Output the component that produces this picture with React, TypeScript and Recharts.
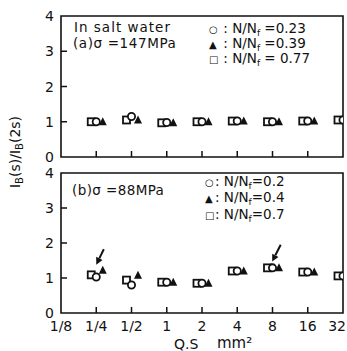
import { ScatterChart, Scatter, XAxis, YAxis, ReferenceArea, ReferenceLine } from "recharts";

const qsTicks = [0.125, 0.25, 0.5, 1, 2, 4, 8, 16, 32];
const qsLabels = ["1/8", "1/4", "1/2", "1", "2", "4", "8", "16", "32"];
const qs = [0.25, 0.5, 1, 2, 4, 8, 16, 32];
const yTicks = [0, 1, 2, 3, 4];

// (a) sigma = 147 MPa, in salt water
const a023 = [1.0, 1.15, 0.98, 1.0, 1.02, 1.0, 1.02, 1.05];
const a039 = [1.0, 1.05, 0.97, 1.0, 1.02, 1.0, 1.02, 1.05];
const a077 = [1.0, 1.05, 0.97, 1.0, 1.02, 1.0, 1.02, 1.05];

// (b) sigma = 88 MPa
const b02 = [1.03, 0.8, 0.88, 0.85, 1.2, 1.29, 1.17, 1.06];
const b04 = [1.22, 1.08, 0.88, 0.85, 1.2, 1.29, 1.17, 1.06];
const b07 = [1.09, 0.94, 0.88, 0.85, 1.2, 1.29, 1.17, 1.06];

const arrowsB = [
  { from: { x: 0.29, y: 1.82 }, to: { x: 0.25, y: 1.38 } },
  { from: { x: 9.4, y: 1.95 }, to: { x: 7.95, y: 1.47 } },
];

const FONT = "'DejaVu Sans', sans-serif";
const INK = "#111";

const toPts = (vals: number[]) => vals.map((v, i) => ({ x: qs[i], y: v }));

const Circle = (p: any) => (
  <circle cx={p.cx} cy={p.cy} r={3.6} fill="#fff" stroke={INK} strokeWidth={1.8} />
);
const Tri = (p: any) => (
  <polygon
    points={`${p.cx + 6.5},${p.cy - 4.5} ${p.cx + 2.5},${p.cy + 3.5} ${p.cx + 10.5},${p.cy + 3.5}`}
    fill={INK}
  />
);
const Sq = (p: any) => (
  <rect x={p.cx - 8.5} y={p.cy - 3.5} width={7} height={7} fill="#fff" stroke={INK} strokeWidth={1.8} />
);

const YTick = (p: any) => {
  const v = p.payload.value;
  return (
    <g>
      {v > 0 && v < 4 && <line x1={p.x} x2={p.x + 6} y1={p.y} y2={p.y} stroke={INK} strokeWidth={1.5} />}
      <text x={p.x - 7} y={p.y + 5} textAnchor="end" fontSize={14} fontFamily={FONT} fill={INK}>
        {v}
      </text>
    </g>
  );
};

const makeXTick = (showLabel: boolean) => (p: any) => {
  const v = p.payload.value;
  const i = qsTicks.indexOf(v);
  const inner = v > 0.125 && v < 32;
  const last = i === qsTicks.length - 1;
  return (
    <g>
      {inner && <line x1={p.x} x2={p.x} y1={p.y} y2={p.y - 6} stroke={INK} strokeWidth={1.5} />}
      {showLabel && (
        <text
          x={last ? 346 : p.x}
          y={p.y + 18}
          textAnchor={last ? "end" : "middle"}
          fontSize={14}
          fontFamily={FONT}
          fill={INK}
        >
          {qsLabels[i]}
        </text>
      )}
    </g>
  );
};

const Arrow = (p: any) => {
  const { x1, y1, x2, y2 } = p;
  const ang = Math.atan2(y2 - y1, x2 - x1);
  const L = 7;
  const w = 3.5;
  const bx = x2 - L * Math.cos(ang);
  const by = y2 - L * Math.sin(ang);
  const nx = -Math.sin(ang) * w;
  const ny = Math.cos(ang) * w;
  return (
    <g>
      <line x1={x1} y1={y1} x2={bx} y2={by} stroke={INK} strokeWidth={2} />
      <polygon points={`${x2},${y2} ${bx + nx},${by + ny} ${bx - nx},${by - ny}`} fill={INK} />
    </g>
  );
};

function Panel({
  height,
  top,
  bottomAxis,
  series,
  arrows,
}: {
  height: number;
  top: number;
  bottomAxis: number;
  series: { data: number[]; shape: any }[];
  arrows?: typeof arrowsB;
}) {
  return (
    <ScatterChart width={347} height={height} margin={{ top, right: 4, left: 0, bottom: 0 }}>
      <XAxis
        type="number"
        dataKey="x"
        scale="log"
        domain={[0.125, 32]}
        ticks={qsTicks}
        allowDataOverflow
        axisLine={false}
        tickLine={false}
        tickSize={0}
        tickMargin={0}
        height={bottomAxis}
        interval={0}
        tick={makeXTick(bottomAxis > 10)}
      />
      <YAxis
        type="number"
        dataKey="y"
        domain={[0, 4]}
        ticks={yTicks}
        width={61}
        axisLine={false}
        tickLine={false}
        tickSize={0}
        tickMargin={0}
        interval={0}
        tick={<YTick />}
      />
      <ReferenceArea
        x1={0.125}
        x2={32}
        y1={0}
        y2={4}
        fill="none"
        stroke={INK}
        strokeWidth={1.6}
        fillOpacity={0}
        ifOverflow="visible"
      />
      {series.map((s, k) => (
        <Scatter key={k} data={toPts(s.data)} shape={s.shape} isAnimationActive={false} />
      ))}
      {arrows &&
        arrows.map((a, k) => (
          <ReferenceLine
            key={k}
            segment={[a.from, a.to]}
            ifOverflow="visible"
            shape={(p: any) => <Arrow {...p} />}
          />
        ))}
    </ScatterChart>
  );
}

const txt: React.CSSProperties = {
  position: "absolute",
  fontFamily: FONT,
  fontSize: 13.5,
  color: INK,
  whiteSpace: "nowrap",
  lineHeight: "14px",
};

const sym: React.CSSProperties = { fontSize: 10, display: "inline-block", width: 10 };

const Nf = () => (
  <>
    N/N<span style={{ fontSize: 9, position: "relative", top: 3 }}>f</span>
  </>
);

export default function App() {
  return (
    <div style={{ position: "absolute", left: 0, top: 0, width: 347, height: 351, background: "#fff" }}>
      <div style={{ position: "absolute", left: 0, top: 0 }}>
        <Panel
          height={164}
          top={16}
          bottomAxis={7}
          series={[
            { data: a077, shape: Sq },
            { data: a023, shape: Circle },
            { data: a039, shape: Tri },
          ]}
        />
      </div>
      <div style={{ position: "absolute", left: 0, top: 163 }}>
        <Panel
          height={180}
          top={10}
          bottomAxis={30}
          series={[
            { data: b07, shape: Sq },
            { data: b02, shape: Circle },
            { data: b04, shape: Tri },
          ]}
          arrows={arrowsB}
        />
      </div>

      <div style={{ ...txt, left: 74, top: 20, letterSpacing: 1 }}>In salt water</div>
      <div style={{ ...txt, left: 73, top: 36, letterSpacing: 0.6 }}>(a)σ =147MPa</div>
      <div style={{ ...txt, left: 209, top: 21 }}><span style={sym}>○</span> : <Nf /> =0.23</div>
      <div style={{ ...txt, left: 209, top: 36 }}><span style={sym}>▲</span> : <Nf /> =0.39</div>
      <div style={{ ...txt, left: 209, top: 51 }}><span style={sym}>□</span> : <Nf /> = 0.77</div>

      <div style={{ ...txt, left: 72, top: 183, letterSpacing: 0.4 }}>(b)σ =88MPa</div>
      <div style={{ ...txt, left: 205, top: 174 }}><span style={sym}>○</span>: <Nf />=0.2</div>
      <div style={{ ...txt, left: 205, top: 190 }}><span style={sym}>▲</span>: <Nf />=0.4</div>
      <div style={{ ...txt, left: 205, top: 207 }}><span style={sym}>□</span>: <Nf />=0.7</div>

      <div style={{ ...txt, left: 174, top: 337, fontSize: 14 }}>Q.S</div>
      <div style={{ ...txt, left: 217, top: 336, fontSize: 15 }}>mm²</div>

      <div
        style={{
          ...txt,
          fontSize: 14,
          left: 16,
          top: 152,
          transform: "translate(-50%, -50%) rotate(-90deg)",
        }}
      >
        I<span style={{ fontSize: 10, position: "relative", top: 3 }}>B</span>(s)/I
        <span style={{ fontSize: 10, position: "relative", top: 3 }}>B</span>(2s)
      </div>
    </div>
  );
}
